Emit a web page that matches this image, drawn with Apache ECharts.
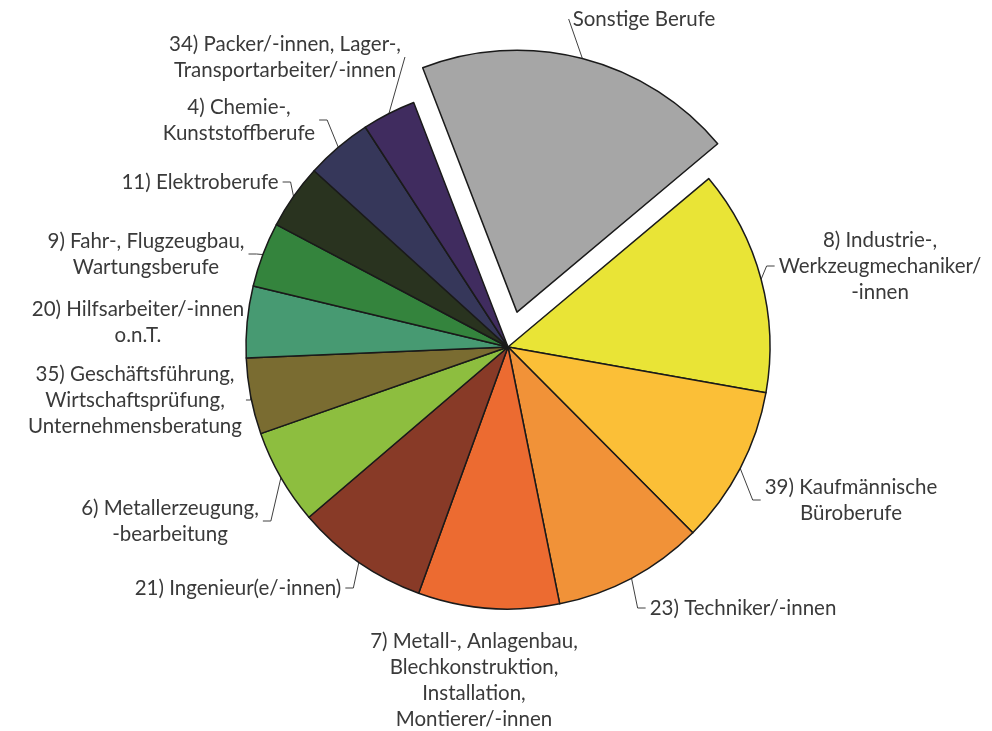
<!DOCTYPE html>
<html>
<head>
<meta charset="utf-8">
<script src="https://cdn.jsdelivr.net/npm/echarts@6/dist/echarts.min.js"></script>
<style>
  html, body { margin: 0; padding: 0; background: #fff; }
  #chart { width: 992px; height: 731px; }
</style>
</head>
<body>
<div id="chart"></div>
<script>
// Berufe, im Uhrzeigersinn ab "Sonstige Berufe"
const categories = [
  'Sonstige Berufe',
  '8) Industrie-,\nWerkzeugmechaniker/\n-innen',
  '39) Kaufmännische\nBüroberufe',
  '23) Techniker/-innen',
  '7) Metall-, Anlagenbau,\nBlechkonstruktion,\nInstallation,\nMontierer/-innen',
  '21) Ingenieur(e/-innen)',
  '6) Metallerzeugung,\n-bearbeitung',
  '35) Geschäftsführung,\nWirtschaftsprüfung,\nUnternehmensberatung',
  '20) Hilfsarbeiter/-innen\no.n.T.',
  '9) Fahr-, Flugzeugbau,\nWartungsberufe',
  '11) Elektroberufe',
  '4) Chemie-,\nKunststoffberufe',
  '34) Packer/-innen, Lager-,\nTransportarbeiter/-innen'
]

// Anteile in Prozent
const shares = [19.75, 13.9, 9.75, 9.3, 8.7, 8.2, 5.9, 4.7, 4.4, 4.0, 4.0, 4.1, 3.3]

const colors = [
  '#a6a6a6', '#e9e436', '#fbbf37', '#f19238', '#ec6b31', '#883a27',
  '#8dbe3f', '#7a6c31', '#479a72', '#34843d', '#29331f', '#36375a', '#402c5f'
]

// Textblock-Mitte der Beschriftungen (px)
const labelCenters = [
  [644, 19], [880, 266], [851, 500], [743, 608], [474, 680], [238, 588],
  [170, 521], [135, 400], [138, 322], [146, 254], [200, 182], [239, 120], [285, 57]
]

const CX = 508, CY = 347, R = 262, START = 111.1, EXPLODE = 36
const EXPLODED = 0 // "Sonstige Berufe" herausgezogen

// Verschiebung des herausgezogenen Segments entlang seiner Winkelhalbierenden
const total = shares.reduce((a, b) => a + b, 0)
const before = shares.slice(0, EXPLODED).reduce((a, b) => a + b, 0)
const midDeg = START - (before + shares[EXPLODED] / 2) / total * 360
const offX = EXPLODE * Math.cos(midDeg * Math.PI / 180)
const offY = -EXPLODE * Math.sin(midDeg * Math.PI / 180)

const font = { color: '#3a3a3a', fontFamily: 'Lato', fontSize: 20.5, lineHeight: 26 }
const line = { color: '#404040', width: 1 }

function pieSeries(showIdx, center) {
  return {
    type: 'pie',
    center,
    radius: R,
    startAngle: START,
    clockwise: true,
    avoidLabelOverlap: false,
    silent: true,
    emphasis: { disabled: true },
    label: { show: true, position: 'outside', align: 'center', padding: [0, 4], ...font },
    labelLine: { show: true, length: 10, length2: 8, smooth: false, lineStyle: line },
    labelLayout: (params) => {
      const c = labelCenters[params.dataIndex]
      return { x: c[0], y: c[1], align: 'center', verticalAlign: 'middle' }
    },
    data: categories.map((name, i) => {
      const on = showIdx(i)
      return {
        name,
        value: shares[i],
        itemStyle: on
          ? { color: colors[i], borderColor: '#1a1a1a', borderWidth: 1.5 }
          : { color: 'rgba(0,0,0,0)', borderWidth: 0 },
        label: { show: on },
        labelLine: { show: on && i !== 4 }
      }
    })
  }
}

const chart = echarts.init(document.getElementById('chart'), null, { renderer: 'canvas' })

chart.setOption({
  animation: false,
  backgroundColor: '#fff',
  series: [
    pieSeries((i) => i !== EXPLODED, [CX, CY]),
    pieSeries((i) => i === EXPLODED, [CX + offX, CY + offY])
  ]
})
</script>
</body>
</html>
